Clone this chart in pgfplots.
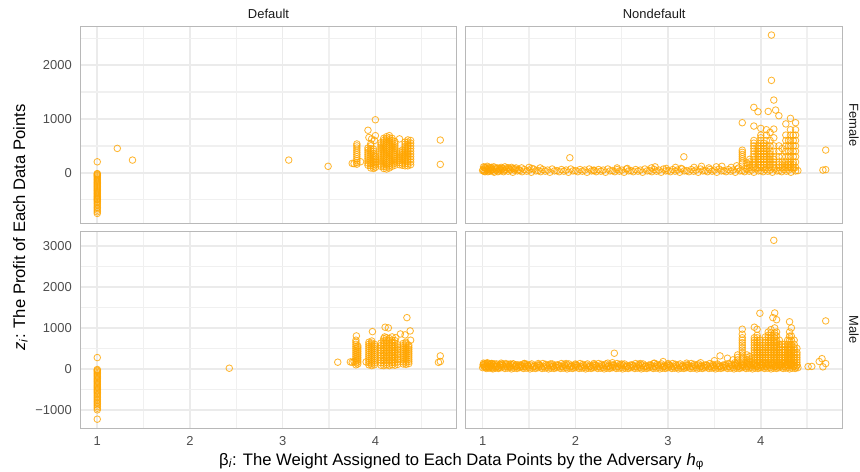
\documentclass[border=0pt]{standalone}
\usepackage{fontspec}
\setmainfont{Liberation Sans}
\usepackage{pgfplots}
\pgfplotsset{compat=1.18}
\definecolor{ptc}{HTML}{FFA500}
\definecolor{brd}{HTML}{B8B8B8}
\definecolor{grd}{HTML}{EBEBEB}
\definecolor{grdm}{HTML}{F0F0F0}
\definecolor{tck}{HTML}{4D4D4D}
\definecolor{ttl}{HTML}{1A1A1A}
\pgfplotsset{
 facet/.style={
  scale only axis, width=376.4bp, height=196.4bp,
  xmin=0.817, xmax=4.877,
  axis line style={draw=brd, line width=1bp},
  grid=both,
  major grid style={draw=grd, line width=1.6bp},
  minor grid style={draw=grdm, line width=1.4bp},
  major tick length=0pt, minor tick length=0pt,
  tick style={draw=none},
  xtick={1,2,3,4}, minor xtick={1.5,2.5,3.5,4.5},
  xticklabels={1,2,3,4},
  tick label style={font=\fontsize{13}{13}\selectfont, text=tck, inner sep=0pt},
  xticklabel shift=8.3bp, yticklabel shift=8.3bp,
 },
 dots/.style={only marks, mark=o, mark size=3.3bp, mark options={draw=ptc, draw opacity=0.8, line width=0.85bp}},
 toprow/.style={ymin=-935, ymax=2714, ytick={0,1000,2000}, minor ytick={-500,500,1500,2500}, yticklabels={0,1000,2000}},
 botrow/.style={ymin=-1446, ymax=3349, ytick={-1000,0,1000,2000,3000}, minor ytick={-500,500,1500,2500}, yticklabels={−1000,0,1000,2000,3000}},
}
\begin{document}
\begin{tikzpicture}
\useasboundingbox (0,0) rectangle (860bp,-472bp);
% ---------------- Female / Default
\begin{axis}[facet, toprow, xticklabels={}, at={(80.3bp,-26.7bp)}, anchor=north west]
\addplot[dots] coordinates {
(1,-755)(1,-725)(1,-695)(1,-665)(1,-640)(1,-610)(1,-580)(1,-555)(1,-530)(1,-505)(1,-490)(1,-475)(1,-455)(1,-435)(1,-415)(1,-395)(1,-375)(1,-355)(1,-335)(1,-315)(1,-295)(1,-275)(1,-255)(1,-235)(1,-215)(1,-195)(1,-175)(1,-155)(1,-135)(1,-115)(1,-95)(1,-75)(1,-55)(1,-40)(1,-25)(1,-15)(1,204)
(1.216,453)(1.38,236)(3.065,236)(3.49,120)(4.70,608)(4.70,156)
(3.75,175)(3.77,170)(3.80,160)(3.80,190)(3.80,225)(3.80,260)(3.80,300)(3.80,340)(3.80,380)(3.80,420)(3.80,460)(3.80,500)(3.80,535)(3.84,205)
(3.92,790)(3.93,655)(3.96,630)(3.99,600)(4.00,985)(4.00,690)
(3.92,140)(3.92,180)(3.92,220)(3.92,260)(3.92,300)(3.92,340)(3.92,380)(3.92,420)(3.92,460)
(3.95,90)(3.95,130)(3.95,170)(3.95,210)(3.95,250)(3.95,290)(3.95,330)(3.95,370)(3.95,410)(3.95,450)(3.95,500)(3.95,540)
(3.98,80)(3.98,120)(3.98,160)(3.98,200)(3.98,240)(3.98,280)(3.98,320)(3.98,360)(3.98,400)(3.98,440)
(4.00,100)(4.00,150)(4.00,200)(4.00,250)(4.00,300)
(4.06,120)(4.06,160)(4.06,200)(4.06,240)(4.06,280)(4.06,320)(4.06,360)(4.06,400)(4.06,440)(4.06,480)(4.06,520)(4.06,560)
(4.09,80)(4.09,120)(4.09,160)(4.09,200)(4.09,240)(4.09,280)(4.09,320)(4.09,360)(4.09,400)(4.09,440)(4.09,480)(4.09,520)(4.09,560)(4.09,600)(4.09,640)
(4.12,70)(4.12,110)(4.12,150)(4.12,190)(4.12,230)(4.12,270)(4.12,310)(4.12,350)(4.12,390)(4.12,430)(4.12,470)(4.12,510)(4.12,550)(4.12,590)(4.12,630)(4.12,670)
(4.15,90)(4.15,130)(4.15,170)(4.15,210)(4.15,250)(4.15,290)(4.15,330)(4.15,370)(4.15,410)(4.15,450)(4.15,490)(4.15,530)(4.15,570)(4.15,610)(4.15,650)(4.15,690)
(4.18,120)(4.18,160)(4.18,200)(4.18,240)(4.18,280)(4.18,320)(4.18,360)(4.18,400)(4.18,440)(4.18,480)(4.18,520)(4.18,560)(4.18,600)(4.18,640)
(4.21,140)(4.21,180)(4.21,220)(4.21,260)(4.21,300)(4.21,340)(4.21,380)(4.21,420)(4.21,460)(4.21,500)(4.21,540)(4.21,580)
(4.26,150)(4.26,190)(4.26,230)(4.26,270)(4.26,310)(4.26,350)(4.26,390)(4.26,630)
(4.29,140)(4.29,180)(4.29,220)(4.29,260)(4.29,300)(4.29,340)(4.29,380)(4.29,420)
(4.32,130)(4.32,170)(4.32,210)(4.32,250)(4.32,290)(4.32,330)(4.32,370)(4.32,410)(4.32,450)(4.32,490)(4.32,530)(4.32,570)
(4.35,130)(4.35,170)(4.35,210)(4.35,250)(4.35,290)(4.35,330)(4.35,370)(4.35,410)(4.35,450)(4.35,490)(4.35,530)(4.35,570)(4.35,610)
(4.38,150)(4.38,200)(4.38,250)(4.38,300)(4.38,350)(4.38,400)(4.38,450)(4.38,500)(4.38,550)(4.38,600)
};
\end{axis}
% ---------------- Female / Nondefault
\begin{axis}[facet, toprow, xticklabels={}, yticklabels={}, at={(465.7bp,-26.7bp)}, anchor=north west]
\addplot[dots] coordinates {
(1.000,40)(1.025,20)(1.050,60)(1.075,30)(1.100,50)(1.125,10)(1.150,70)(1.175,35)
(1.200,40)(1.225,20)(1.250,60)(1.275,30)(1.300,50)(1.325,10)(1.350,70)(1.375,35)
(1.400,40)(1.425,20)(1.450,60)(1.475,30)(1.500,50)(1.525,10)(1.550,70)(1.575,35)
(1.600,40)(1.625,20)(1.650,60)(1.675,30)(1.700,50)(1.725,10)(1.750,70)(1.775,35)
(1.800,40)(1.825,20)(1.850,60)(1.875,30)(1.900,50)(1.925,10)(1.950,70)(1.975,35)
(2.000,40)(2.025,20)(2.050,60)(2.075,30)(2.100,50)(2.125,10)(2.150,70)(2.175,35)
(2.200,40)(2.225,20)(2.250,60)(2.275,30)(2.300,50)(2.325,10)(2.350,70)(2.375,35)
(2.400,40)(2.425,20)(2.450,60)(2.475,30)(2.500,50)(2.525,10)(2.550,70)(2.575,35)
(2.600,40)(2.625,20)(2.650,60)(2.675,30)(2.700,50)(2.725,10)(2.750,70)(2.775,35)
(2.800,40)(2.825,20)(2.850,60)(2.875,30)(2.900,50)(2.925,10)(2.950,70)(2.975,35)
(3.000,40)(3.025,20)(3.050,60)(3.075,30)(3.100,50)(3.125,10)(3.150,70)(3.175,35)
(3.200,40)(3.225,20)(3.250,60)(3.275,30)(3.300,50)(3.325,10)(3.350,70)(3.375,35)
(3.400,40)(3.425,20)(3.450,60)(3.475,30)(3.500,50)(3.525,10)(3.550,70)(3.575,35)
(3.600,40)(3.625,20)(3.650,60)(3.675,30)(3.700,50)(3.725,10)(3.750,70)(3.775,35)
(3.800,40)(3.825,20)(3.850,60)(3.875,30)(3.900,50)(3.925,10)(3.950,70)(3.975,35)
(4.000,40)(4.025,20)(4.050,60)(4.075,30)(4.100,50)(4.125,10)(4.150,70)(4.175,35)
(4.200,40)(4.225,20)(4.250,60)(4.275,30)(4.300,50)(4.325,10)(4.350,70)(4.375,35)(4.400,40)
(1.005,60)(1.015,30)(1.02,100)(1.035,50)(1.045,80)(1.055,20)(1.065,70)(1.085,40)(1.095,100)(1.105,60)(1.115,30)(1.135,90)(1.145,50)(1.165,20)(1.185,80)(1.195,60)(1.21,80)(1.235,50)(1.26,90)(1.29,70)(1.31,100)(1.34,50)(1.36,90)(1.39,60)
(1.01,110)(1.03,90)(1.05,120)(1.07,100)(1.09,80)(1.12,110)(1.16,90)(1.2,100)(1.24,110)(1.28,90)(1.33,80)(1.42,90)(1.5,100)(1.53,80)(1.62,90)(2.2,50)(2.45,90)(2.56,80)(2.82,90)(2.86,110)(2.98,80)(3.08,100)(3.14,80)(3.28,100)(3.36,120)(3.44,90)(3.52,110)(3.58,120)(3.68,100)(3.74,130)(3.76,90)(1.94,279)(3.17,297)
(3.80,180)(3.80,220)(3.80,260)(3.80,300)(3.80,340)(3.80,380)(3.80,420)(3.80,930)
(3.85,80)(3.85,130)(3.85,180)(3.88,100)(3.88,150)(3.88,200)(3.88,250)
(3.925,100)(3.925,150)(3.925,200)(3.925,250)(3.925,300)(3.925,350)(3.925,400)(3.925,450)(3.925,500)(3.925,550)(3.925,600)(3.925,868)(3.925,1215)
(3.97,100)(3.97,150)(3.97,200)(3.97,250)(3.97,300)(3.97,350)(3.97,400)(3.97,450)(3.97,500)(3.97,1134)
(4.00,100)(4.00,150)(4.00,200)(4.00,250)(4.00,300)(4.00,350)(4.00,400)(4.00,450)(4.00,500)(4.00,550)(4.00,600)(4.00,650)(4.00,700)(4.00,825)
(4.03,100)(4.03,150)(4.03,200)(4.03,250)(4.03,300)(4.03,350)(4.03,400)(4.03,450)(4.03,500)(4.03,550)
(4.06,100)(4.06,150)(4.06,200)(4.06,250)(4.06,300)(4.06,350)(4.06,400)(4.06,450)(4.06,500)(4.06,600)(4.06,700)(4.06,800)
(4.08,1140)
(4.10,100)(4.10,150)(4.10,200)(4.10,250)(4.10,300)(4.10,350)(4.10,400)(4.10,500)(4.10,600)(4.10,750)
(4.115,2559)(4.115,1717)
(4.14,100)(4.14,150)(4.14,200)(4.14,250)(4.14,300)(4.14,400)(4.14,500)(4.14,650)(4.14,812)(4.14,1351)
(4.16,1165)
(4.195,100)(4.195,150)(4.195,200)(4.195,300)(4.195,400)(4.195,500)(4.195,1060)
(4.23,100)(4.23,150)(4.23,200)(4.23,300)(4.23,450)
(4.27,100)(4.27,150)(4.27,200)(4.27,300)(4.27,400)(4.27,500)(4.27,600)(4.27,700)(4.27,908)
(4.30,100)(4.30,150)(4.30,200)(4.30,300)(4.30,400)(4.30,500)(4.30,600)
(4.32,100)(4.32,150)(4.32,200)(4.32,300)(4.32,400)(4.32,500)(4.32,600)(4.32,700)(4.32,800)(4.32,1011)
(4.35,100)(4.35,150)(4.35,200)(4.35,300)(4.35,400)(4.35,500)(4.35,600)(4.35,700)
(4.375,100)(4.375,200)(4.375,300)(4.375,400)(4.375,500)(4.375,600)(4.375,700)(4.375,800)(4.375,930)
(4.70,422)(4.67,50)(4.70,58)
};
\end{axis}
% ---------------- Male / Default
\begin{axis}[facet, botrow, at={(80.3bp,-231.7bp)}, anchor=north west]
\addplot[dots] coordinates {
(1,-1228)(1,-1000)(1,-960)(1,-920)(1,-880)(1,-845)(1,-810)(1,-775)(1,-740)(1,-705)(1,-670)(1,-635)(1,-600)(1,-570)(1,-540)(1,-510)(1,-480)(1,-450)(1,-420)(1,-390)(1,-360)(1,-330)(1,-300)(1,-270)(1,-240)(1,-210)(1,-180)(1,-150)(1,-120)(1,-90)(1,-60)(1,-35)(1,-15)(1,276)
(2.424,16)(3.594,163)(4.70,317)(4.70,180)(4.68,160)(3.73,170)(3.75,160)(3.77,180)(3.795,805)
(3.79,100)(3.79,150)(3.79,200)(3.79,250)(3.79,300)(3.79,350)(3.79,400)(3.79,450)(3.79,500)(3.79,550)(3.79,600)(3.79,650)(3.79,700)
(3.81,120)(3.81,170)(3.81,220)(3.81,270)(3.81,320)(3.81,370)(3.81,420)(3.81,470)(3.81,520)(3.81,560)
(3.93,100)(3.93,150)(3.93,200)(3.93,250)(3.93,300)(3.93,350)(3.93,400)(3.93,450)(3.93,500)(3.93,550)(3.93,600)(3.93,650)
(3.96,80)(3.96,130)(3.96,180)(3.96,230)(3.96,280)(3.96,330)(3.96,380)(3.96,430)(3.96,480)(3.96,530)(3.96,580)(3.96,630)(3.96,680)
(3.99,100)(3.99,150)(3.99,200)(3.99,250)(3.99,300)(3.99,350)(3.99,400)(3.99,450)(3.99,500)(3.99,550)(3.99,600)
(3.968,910)(3.90,170)
(4.06,90)(4.06,150)(4.06,210)(4.06,270)(4.06,330)(4.06,390)(4.06,450)(4.06,510)(4.06,570)(4.06,630)
(4.09,80)(4.09,140)(4.09,200)(4.09,260)(4.09,320)(4.09,380)(4.09,440)(4.09,500)(4.09,560)(4.09,620)(4.09,680)(4.09,740)
(4.12,100)(4.12,160)(4.12,220)(4.12,280)(4.12,340)(4.12,400)(4.12,460)(4.12,520)(4.12,580)(4.12,640)(4.12,700)(4.12,760)
(4.15,80)(4.15,140)(4.15,200)(4.15,260)(4.15,320)(4.15,380)(4.15,440)(4.15,500)(4.15,560)(4.15,620)(4.15,680)(4.15,740)
(4.18,100)(4.18,160)(4.18,220)(4.18,280)(4.18,340)(4.18,400)(4.18,460)(4.18,520)(4.18,580)(4.18,640)(4.18,700)(4.18,780)
(4.21,90)(4.21,150)(4.21,210)(4.21,270)(4.21,330)(4.21,390)(4.21,450)(4.21,510)(4.21,570)(4.21,630)(4.21,690)
(4.24,110)(4.24,170)(4.24,230)(4.24,290)(4.24,350)(4.24,410)(4.24,470)(4.24,530)(4.24,590)
(4.105,1017)(4.14,1000)(4.10,780)(4.22,760)
(4.30,120)(4.30,170)(4.30,220)(4.30,270)(4.30,320)(4.30,370)(4.30,420)(4.30,470)(4.30,520)(4.30,570)(4.30,620)
(4.33,110)(4.33,160)(4.33,210)(4.33,260)(4.33,310)(4.33,360)(4.33,410)(4.33,460)(4.33,510)(4.33,560)(4.33,610)(4.33,650)
(4.36,130)(4.36,180)(4.36,230)(4.36,280)(4.36,330)(4.36,380)(4.36,430)(4.36,480)(4.36,530)(4.36,580)
(4.34,1251)(4.375,927)(4.27,852)(4.32,830)(4.38,700)
};
\end{axis}
% ---------------- Male / Nondefault
\begin{axis}[facet, botrow, yticklabels={}, at={(465.7bp,-231.7bp)}, anchor=north west]
\addplot[dots] coordinates {
(1.00,30)(1.02,80)(1.04,10)(1.06,60)(1.08,110)(1.10,40)(1.12,90)(1.14,20)(1.16,70)(1.18,50)
(1.20,30)(1.22,80)(1.24,10)(1.26,60)(1.28,110)(1.30,40)(1.32,90)(1.34,20)(1.36,70)(1.38,50)
(1.40,30)(1.42,80)(1.44,10)(1.46,60)(1.48,110)(1.50,40)(1.52,90)(1.54,20)(1.56,70)(1.58,50)
(1.60,30)(1.62,80)(1.64,10)(1.66,60)(1.68,110)(1.70,40)(1.72,90)(1.74,20)(1.76,70)(1.78,50)
(1.80,30)(1.82,80)(1.84,10)(1.86,60)(1.88,110)(1.90,40)(1.92,90)(1.94,20)(1.96,70)(1.98,50)
(2.00,30)(2.02,80)(2.04,10)(2.06,60)(2.08,110)(2.10,40)(2.12,90)(2.14,20)(2.16,70)(2.18,50)
(2.20,30)(2.22,80)(2.24,10)(2.26,60)(2.28,110)(2.30,40)(2.32,90)(2.34,20)(2.36,70)(2.38,50)
(2.40,30)(2.42,80)(2.44,10)(2.46,60)(2.48,110)(2.50,40)(2.52,90)(2.54,20)(2.56,70)(2.58,50)
(2.60,30)(2.62,80)(2.64,10)(2.66,60)(2.68,110)(2.70,40)(2.72,90)(2.74,20)(2.76,70)(2.78,50)
(2.80,30)(2.82,80)(2.84,10)(2.86,60)(2.88,110)(2.90,40)(2.92,90)(2.94,20)(2.96,70)(2.98,50)
(3.00,30)(3.02,80)(3.04,10)(3.06,60)(3.08,110)(3.10,40)(3.12,90)(3.14,20)(3.16,70)(3.18,50)
(3.20,30)(3.22,80)(3.24,10)(3.26,60)(3.28,110)(3.30,40)(3.32,90)(3.34,20)(3.36,70)(3.38,50)
(3.40,30)(3.42,80)(3.44,10)(3.46,60)(3.48,110)(3.50,40)(3.52,90)(3.54,20)(3.56,70)(3.58,50)
(3.60,30)(3.62,80)(3.64,10)(3.66,60)(3.68,110)(3.70,40)(3.72,90)(3.74,20)(3.76,70)(3.78,50)
(3.80,30)(3.82,80)(3.84,10)(3.86,60)(3.88,110)(3.90,40)(3.92,90)(3.94,20)(3.96,70)(3.98,50)
(4.00,30)(4.02,80)(4.04,10)(4.06,60)(4.08,110)(4.10,40)(4.12,90)(4.14,20)(4.16,70)(4.18,50)
(4.20,30)(4.22,80)(4.24,10)(4.26,60)(4.28,110)(4.30,40)(4.32,90)(4.34,20)(4.36,70)(4.38,50)(4.40,30)
(1.01,100)(1.03,50)(1.05,130)(1.07,20)(1.09,80)(1.11,0)(1.13,120)(1.15,60)(1.17,10)(1.19,90)
(1.21,100)(1.23,50)(1.25,130)(1.27,20)(1.29,80)(1.31,0)(1.33,120)(1.35,60)(1.37,10)(1.39,90)
(1.41,100)(1.43,50)(1.45,130)(1.47,20)(1.49,80)(1.51,0)(1.53,120)(1.55,60)(1.57,10)(1.59,90)
(1.61,100)(1.63,50)(1.65,130)(1.67,20)(1.69,80)(1.71,0)(1.73,120)(1.75,60)(1.77,10)(1.79,90)
(1.81,100)(1.83,50)(1.85,130)(1.87,20)(1.89,80)(1.91,0)(1.93,120)(1.95,60)(1.97,10)(1.99,90)
(2.01,100)(2.03,50)(2.05,130)(2.07,20)(2.09,80)(2.11,0)(2.13,120)(2.15,60)(2.17,10)(2.19,90)
(2.21,100)(2.23,50)(2.25,130)(2.27,20)(2.29,80)(2.31,0)(2.33,120)(2.35,60)(2.37,10)(2.39,90)
(2.41,100)(2.43,50)(2.45,130)(2.47,20)(2.49,80)(2.51,0)(2.53,120)(2.55,60)(2.57,10)(2.59,90)
(2.61,100)(2.63,50)(2.65,130)(2.67,20)(2.69,80)(2.71,0)(2.73,120)(2.75,60)(2.77,10)(2.79,90)
(2.81,100)(2.83,50)(2.85,130)(2.87,20)(2.89,80)(2.91,0)(2.93,120)(2.95,60)(2.97,10)(2.99,90)
(3.01,100)(3.03,50)(3.05,130)(3.07,20)(3.09,80)(3.11,0)(3.13,120)(3.15,60)(3.17,10)(3.19,90)
(3.21,100)(3.23,50)(3.25,130)(3.27,20)(3.29,80)(3.31,0)(3.33,120)(3.35,60)(3.37,10)(3.39,90)
(3.41,100)(3.43,50)(3.45,130)(3.47,20)(3.49,80)(3.51,0)(3.53,120)(3.55,60)(3.57,10)(3.59,90)
(3.61,100)(3.63,50)(3.65,130)(3.67,20)(3.69,80)(3.71,0)(3.73,120)(3.75,60)(3.77,10)(3.79,90)
(3.81,100)(3.83,50)(3.85,130)(3.87,20)(3.89,80)(3.91,0)(3.93,120)(3.95,60)(3.97,10)(3.99,90)
(4.01,100)(4.03,50)(4.05,130)(4.07,20)(4.09,80)(4.11,0)(4.13,120)(4.15,60)(4.17,10)(4.19,90)
(4.21,100)(4.23,50)(4.25,130)(4.27,20)(4.29,80)(4.31,0)(4.33,120)(4.35,60)(4.37,10)(4.39,90)
(1.005,100)(1.015,50)(1.025,130)(1.035,40)(1.045,90)(1.055,120)(1.065,30)(1.075,100)(1.085,60)(1.095,130)(1.105,20)(1.115,110)(1.13,60)(1.15,120)(1.17,30)(1.19,100)(1.21,120)(1.25,100)(1.29,60)(1.33,120)(1.37,100)(1.41,60)(1.45,100)(1.49,70)
(1.01,140)(1.05,150)(1.1,130)(1.2,140)(1.3,120)(1.45,130)(1.6,130)(1.75,120)(1.9,130)(2.0,120)(2.2,130)(2.35,140)(2.4,150)(2.42,382)(2.5,120)(2.7,130)(2.85,140)(2.946,178)(3.0,130)(3.2,140)(3.35,150)(3.5,200)(3.56,317)(3.64,260)(3.7,220)(3.72,150)
(3.75,100)(3.75,160)(3.75,220)(3.75,280)(3.75,340)
(3.80,100)(3.80,160)(3.80,220)(3.80,280)(3.80,340)(3.80,400)(3.80,460)(3.80,520)(3.80,580)(3.80,640)(3.80,700)(3.80,760)(3.80,846)(3.80,968)
(3.85,100)(3.85,160)(3.85,220)(3.85,280)(3.85,340)
(3.88,120)(3.88,180)(3.88,240)(3.88,300)
(3.93,100)(3.93,160)(3.93,220)(3.93,280)(3.93,340)(3.93,400)(3.93,460)(3.93,520)(3.93,580)(3.93,640)(3.93,700)(3.93,760)(3.93,1017)
(3.96,100)(3.96,160)(3.96,220)(3.96,280)(3.96,340)(3.96,400)(3.96,460)(3.96,520)(3.96,580)(3.96,640)(3.96,700)(3.96,760)(3.96,820)(3.96,968)
(3.99,100)(3.99,160)(3.99,220)(3.99,280)(3.99,340)(3.99,400)(3.99,460)(3.99,520)(3.99,580)(3.99,640)(3.99,700)(3.99,1358)
(4.02,100)(4.02,160)(4.02,220)(4.02,280)(4.02,340)(4.02,400)(4.02,460)
(4.05,100)(4.05,160)(4.05,220)(4.05,280)(4.05,340)(4.05,400)(4.05,460)(4.05,520)(4.05,580)(4.05,640)(4.05,700)(4.05,780)
(4.08,100)(4.08,160)(4.08,220)(4.08,280)(4.08,340)(4.08,400)(4.08,460)(4.08,520)(4.08,580)(4.08,640)(4.08,700)(4.08,760)(4.08,820)(4.08,900)
(4.11,100)(4.11,160)(4.11,220)(4.11,280)(4.11,340)(4.11,400)(4.11,460)(4.11,520)(4.11,580)(4.11,640)(4.11,700)(4.11,760)(4.11,820)(4.11,880)(4.11,960)
(4.13,1252)(4.14,3139)
(4.15,100)(4.15,160)(4.15,220)(4.15,280)(4.15,340)(4.15,400)(4.15,460)(4.15,520)(4.15,580)(4.15,640)(4.15,700)(4.15,760)(4.15,820)(4.15,880)(4.15,1000)(4.15,1365)
(4.17,100)(4.17,160)(4.17,220)(4.17,280)(4.17,340)(4.17,400)(4.17,460)(4.17,520)(4.17,580)(4.17,640)(4.17,700)(4.17,800)(4.17,900)(4.17,1200)
(4.20,100)(4.20,160)(4.20,220)(4.20,280)(4.20,340)(4.20,400)(4.20,460)(4.20,520)(4.20,600)(4.20,700)
(4.23,100)(4.23,160)(4.23,220)(4.23,280)(4.23,340)(4.23,400)(4.23,460)(4.23,540)(4.23,600)
(4.26,100)(4.26,160)(4.26,220)(4.26,280)(4.26,340)(4.26,400)(4.26,460)(4.26,540)(4.26,600)
(4.29,100)(4.29,160)(4.29,220)(4.29,280)(4.29,340)(4.29,400)(4.29,460)(4.29,520)(4.29,600)(4.29,700)
(4.31,100)(4.31,160)(4.31,220)(4.31,280)(4.31,340)(4.31,400)(4.31,460)(4.31,520)(4.31,600)(4.31,700)(4.31,800)(4.31,900)(4.31,1150)
(4.33,100)(4.33,160)(4.33,220)(4.33,280)(4.33,340)(4.33,400)(4.33,460)(4.33,520)(4.33,600)(4.33,700)(4.33,800)(4.33,1000)
(4.36,100)(4.36,160)(4.36,220)(4.36,280)(4.36,340)(4.36,400)(4.36,460)(4.36,520)(4.36,600)(4.36,700)
(4.39,100)(4.39,160)(4.39,220)(4.39,280)(4.39,340)(4.39,400)(4.39,500)
(4.51,56)(4.55,60)(4.63,180)(4.66,250)(4.70,1171)(4.67,50)(4.70,130)
};
\end{axis}
% ---------------- strips and titles
\node[anchor=base, font=\fontsize{13}{13}\selectfont, text=ttl] at (268.5bp,-18.3bp) {Default};
\node[anchor=base, font=\fontsize{13}{13}\selectfont, text=ttl] at (654.2bp,-18.3bp) {Nondefault};
\node[anchor=base, rotate=-90, font=\fontsize{13}{13}\selectfont, text=ttl] at (849.3bp,-124.9bp) {Female};
\node[anchor=base, rotate=-90, font=\fontsize{13}{13}\selectfont, text=ttl] at (849.3bp,-330bp) {Male};
\node[anchor=base, font=\fontsize{16.7}{16.7}\selectfont, text=black] at (461.5bp,-465bp) {β\textsubscript{\textit{i}}: The Weight Assigned to Each Data Points by the Adversary \textit{h}\textsubscript{φ}};
\node[anchor=base, rotate=90, font=\fontsize{16.7}{16.7}\selectfont, text=black] at (25bp,-227.5bp) {\textit{z}\textsubscript{\textit{i}}: The Profit of Each Data Points};
\end{tikzpicture}
\end{document}
